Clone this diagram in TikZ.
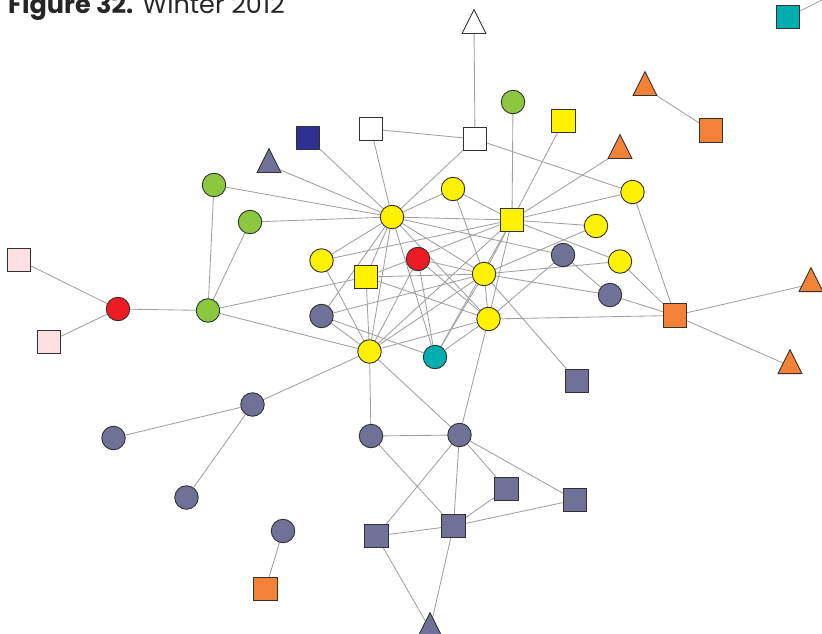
\documentclass[tikz,border=0pt]{standalone}
\usepackage{fontspec}
\newfontfamily\headfont{Poppins}
\usetikzlibrary{shapes.geometric,backgrounds}

\definecolor{nyellow}{RGB}{255,242,0}
\definecolor{ngreen}{RGB}{141,198,63}
\definecolor{nred}{RGB}{237,28,36}
\definecolor{nteal}{RGB}{0,174,176}
\definecolor{nnavy}{RGB}{46,49,146}
\definecolor{nslate}{RGB}{113,113,152}
\definecolor{norange}{RGB}{243,129,54}
\definecolor{npink}{RGB}{252,224,228}
\definecolor{edgegray}{RGB}{160,160,160}
\definecolor{rimgray}{RGB}{50,50,50}

\tikzset{
  vtx/.style={draw=rimgray, line width=0.9pt, inner sep=0pt},
  circ/.style={vtx, circle, minimum size=23.5pt},
  sqr/.style={vtx, rectangle, minimum size=23.5pt},
  tri/.style={vtx, isosceles triangle, shape border rotate=90,
    isosceles triangle stretches, minimum width=24pt, minimum height=24pt, anchor=south},
  link/.style={draw=edgegray, line width=0.85pt}
}

\begin{document}
\begin{tikzpicture}[x=1pt,y=-1pt]
\useasboundingbox (0,0) rectangle (822,634);
\clip (0,0) rectangle (822,634);

% heading
\node[anchor=base west, inner sep=0pt, text=black!85,
      font=\headfont\fontsize{25.5}{26}\selectfont] (title) at (8,13.5)
  {\textbf{Figure 32.} Winter 2012};

% top cluster
\node[tri, fill=white]   (t1)    at (474,34) {};
\node[sqr, fill=white]   (w2)    at (475,139) {};
\node[sqr, fill=white]   (w1)    at (371,129) {};
\node[circ, fill=ngreen] (gtop)  at (513,102) {};
\node[sqr, fill=nyellow] (ysqt)  at (563.5,121) {};
\node[sqr, fill=nteal]   (tsq)   at (788,17) {};
\coordinate (tfree) at (830,-4);
\node[tri, fill=norange] (otri1) at (645,96) {};
\node[sqr, fill=norange] (osq1)  at (711,130.5) {};
\node[tri, fill=norange] (otri2) at (620,159) {};
\node[sqr, fill=nnavy]   (nsq)   at (308,138) {};
\node[tri, fill=nslate]  (ptri)  at (269,173) {};

% core
\node[circ, fill=ngreen]  (g1)   at (214,185) {};
\node[circ, fill=ngreen]  (g2)   at (250,222) {};
\node[circ, fill=nyellow] (yh)   at (392,217) {};
\node[circ, fill=nyellow] (ya)   at (453,189) {};
\node[sqr, fill=nyellow]  (ysqm) at (512,220) {};
\node[circ, fill=nyellow] (yb)   at (632.5,192) {};
\node[circ, fill=nyellow] (yc)   at (596,226) {};
\node[circ, fill=nslate]  (pc1)  at (563,255) {};
\node[circ, fill=nyellow] (yd)   at (620,261.5) {};
\node[circ, fill=nslate]  (pc2)  at (610,295) {};
\node[circ, fill=nyellow] (ye)   at (321.5,260.5) {};
\node[sqr, fill=nyellow]  (ysq2) at (366,277) {};
\node[circ, fill=nred]    (rmid) at (418,259) {};
\node[circ, fill=nyellow] (yf)   at (484,274) {};
\node[circ, fill=nyellow] (yg)   at (488.5,319) {};
\node[circ, fill=nslate]  (pc3)  at (321.5,316) {};
\node[circ, fill=nyellow] (yhh)  at (369.5,351.5) {};
\node[circ, fill=nteal]   (teal) at (435,357) {};
\node[sqr, fill=norange]  (osq2) at (675,315.5) {};
\node[tri, fill=norange]  (otri3) at (811,292) {};
\node[tri, fill=norange]  (otri4) at (790,374) {};
\node[sqr, fill=nslate]   (psq1) at (577,381) {};

% left branch
\node[sqr, fill=npink]    (pink1) at (19,260) {};
\node[sqr, fill=npink]    (pink2) at (49,342) {};
\node[circ, fill=nred]    (rleft) at (118,309) {};
\node[circ, fill=ngreen]  (g3)    at (208,310.5) {};

% lower part
\node[circ, fill=nslate] (pc4) at (252.5,404.5) {};
\node[circ, fill=nslate] (pc5) at (113.5,438) {};
\node[circ, fill=nslate] (pc6) at (186.5,497.5) {};
\node[circ, fill=nslate] (pc9) at (283,531) {};
\node[sqr, fill=norange] (osq3) at (265.5,589) {};
\node[circ, fill=nslate] (pc7) at (371,436) {};
\node[circ, fill=nslate] (pc8) at (459.5,435) {};
\node[sqr, fill=nslate]  (psq2) at (506.5,489) {};
\node[sqr, fill=nslate]  (psq3) at (575,500) {};
\node[sqr, fill=nslate]  (psq4) at (453.5,526) {};
\node[sqr, fill=nslate]  (psq5) at (376.5,536) {};
\node[tri, fill=nslate]  (ptri2) at (430,637) {};

\begin{pgfonlayer}{background}
  % spokes of the upper hub
  \foreach \t in {w1,w2,nsq,ptri,g1,g2,ya,ysqm,ye,pc3,yhh,yf,yg,teal,pc1,ysq2}
    \draw[link] (yh) -- (\t);
  % spokes of the yellow square
  \foreach \t in {gtop,ysqt,otri2,ya,yb,yc,yd,ye,yf,yg,yhh,ysq2,teal}
    \draw[link] (ysqm) -- (\t);
  \foreach \t in {ya,rmid,ysq2,pc3,yd,pc2,psq1,yg,teal,yhh,yc}
    \draw[link] (yf) -- (\t);
  \foreach \t in {pc8,osq2,pc1,teal,yhh,ysq2,rmid}
    \draw[link] (yg) -- (\t);
  \foreach \t in {ye,ysq2,rmid,g3,pc4,pc3,pc7,pc8}
    \draw[link] (yhh) -- (\t);
  % remaining links
  \draw[link] (w1) -- (w2);
  \draw[link] (t1) -- (w2);
  \draw[link] (w2) -- (yb);
  \draw[link] (pc1) -- (pc2);
  \draw[link] (yb) -- (osq2);
  \draw[link] (yd) -- (osq2);
  \draw[link] (pc2) -- (osq2);
  \draw[link] (osq2) -- (otri3);
  \draw[link] (osq2) -- (otri4);
  \draw[link] (otri1) -- (osq1);
  \draw[link] (tsq) -- (tfree);
  \draw[link] (pink1) -- (rleft);
  \draw[link] (pink2) -- (rleft);
  \draw[link] (rleft) -- (g3);
  \draw[link] (g1) -- (g3);
  \draw[link] (g2) -- (g3);
  \draw[link] (g3) -- (ysq2);
  \draw[link] (rmid) -- (teal);
  \draw[link] (pc3) -- (teal);
  \draw[link] (pc4) -- (pc5);
  \draw[link] (pc4) -- (pc6);
  \draw[link] (pc9) -- (osq3);
  \draw[link] (pc7) -- (pc8);
  \draw[link] (pc7) -- (psq4);
  \foreach \t in {psq5,psq4,psq2,psq3}
    \draw[link] (pc8) -- (\t);
  \foreach \t in {psq2,psq3,psq5,ptri2}
    \draw[link] (psq4) -- (\t);
  \draw[link] (psq5) -- (ptri2);
\end{pgfonlayer}
\end{tikzpicture}
\end{document}
